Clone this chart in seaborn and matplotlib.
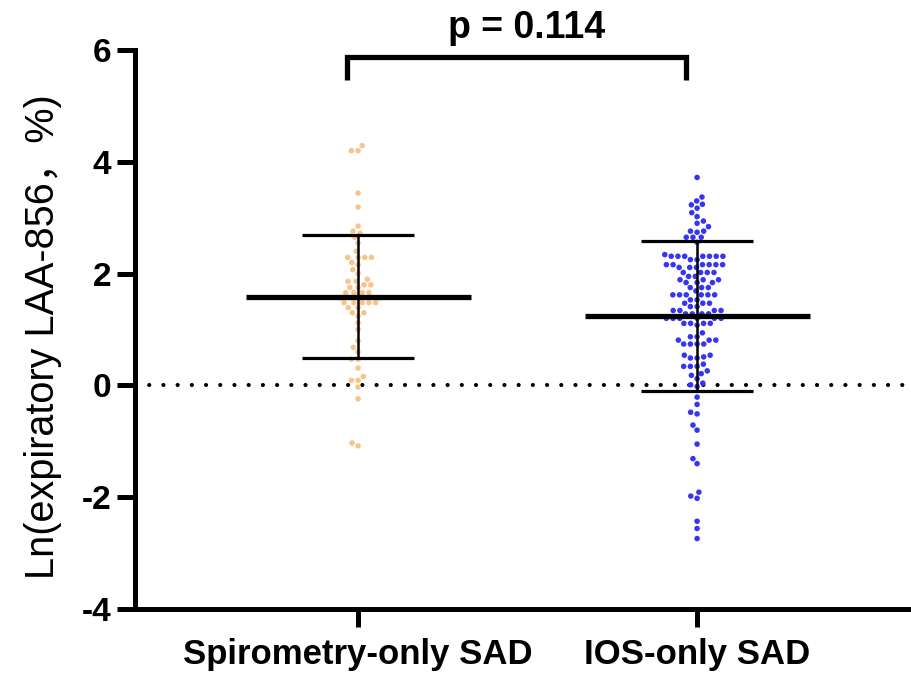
import matplotlib
matplotlib.use("Agg")
import matplotlib.pyplot as plt
import seaborn as sns
import pandas as pd
import numpy as np

# Group labels and colours
groups = ["Spirometry-only SAD", "IOS-only SAD"]
colors = ["#F8C48A", "#3535F2"]

# Ln(expiratory LAA-856, %) per subject
spiro_vals = [4.29, 4.20, 4.20, 3.44, 3.19, 2.85, 2.76, 2.72, 2.65,
              2.55, 2.40, 2.20, 2.00, 1.90, 1.30, 1.00, 0.80, 0.60,
              2.29, 2.29, 2.29, 2.29, 2.16, 2.07, 1.86, 1.86, 1.80, 1.80,
              1.75, 1.75, 1.66, 1.66, 1.66, 1.66, 1.57, 1.57, 1.57, 1.57,
              1.48, 1.48, 1.48, 1.48, 1.48, 1.39, 1.39, 1.30, 1.24, 1.12,
              0.68, 0.47, 0.47, 0.31, 0.16, 0.09, 0.09, -0.03, -0.24,
              -1.03, -1.08]

ios_vals = [3.72, 3.37, 3.30, 3.24, 3.23, 3.17, 3.09, 3.02, 2.94, 2.90,
            2.84, 2.74, 2.76, 2.76, 2.65, 2.65, 2.65, 2.56, 2.34,
            2.31, 2.31, 2.31, 2.31, 2.31, 2.31, 2.31, 2.25, 2.25,
            2.16, 2.16, 2.16, 2.16, 2.16, 2.16, 2.11, 2.11, 2.11,
            2.02, 2.02, 2.02, 2.02, 1.95, 1.95, 1.89, 1.89, 1.89,
            1.84, 1.84, 1.84, 1.75, 1.75, 1.75, 1.69,
            1.62, 1.62, 1.62, 1.62, 1.62, 1.62, 1.53, 1.53,
            1.47, 1.47, 1.47, 1.41, 1.41, 1.34, 1.34, 1.34, 1.34,
            1.28, 1.28, 1.28, 1.28, 1.20, 1.20, 1.20, 1.20, 1.20, 1.20,
            1.11, 1.11, 1.11, 1.11, 1.08, 0.94, 0.87, 0.87,
            0.81, 0.81, 0.81, 0.74, 0.74, 0.74, 0.74,
            0.54, 0.54, 0.51, 0.49, 0.49, 0.38, 0.34, 0.34, 0.34,
            0.26, 0.21, 0.18, 0.12, 0.04, 0.01, -0.02, -0.21, -0.34,
            -0.48, -0.51, -0.71, -0.80, -1.05, -1.31, -1.40,
            -1.91, -1.98, -2.02, -2.43, -2.56, -2.74]

# Group summaries: mean and standard deviation
group_means = [1.59, 1.24]
group_sds = [1.10, 1.34]

# Significance annotation
p_label = "p = 0.114"

y_ticks = [-4, -2, 0, 2, 4, 6]
y_label = "Ln(expiratory LAA-856，%)"

df = pd.DataFrame({
    "group": [groups[0]] * len(spiro_vals) + [groups[1]] * len(ios_vals),
    "value": spiro_vals + ios_vals,
})

sns.set_style("ticks")
plt.rcParams["font.family"] = ["Liberation Sans", "Noto Sans CJK SC", "DejaVu Sans"]
plt.rcParams.update({
    "text.color": "black",
    "axes.labelcolor": "black",
    "axes.edgecolor": "black",
    "xtick.color": "black",
    "ytick.color": "black",
    "xtick.labelcolor": "black",
    "ytick.labelcolor": "black",
})

fig = plt.figure(figsize=(9.11, 6.73), dpi=100)
ax = fig.add_axes([0.1482, 0.0951, 0.8518, 0.8306])

sns.swarmplot(data=df, x="group", y="value", hue="group", order=groups,
              hue_order=groups, palette=colors, size=4.0, linewidth=0.6,
              legend=False, ax=ax, zorder=2)
# the (invisible) edge keeps the swarm columns slightly apart
for coll in ax.collections:
    coll.set_edgecolor("none")

# mean and SD bars
for i, (m, s) in enumerate(zip(group_means, group_sds)):
    ax.plot([i - 0.332, i + 0.332], [m, m], color="black", lw=3.8,
            solid_capstyle="butt", zorder=4)
    ax.plot([i, i], [m - s, m + s], color="black", lw=1.8, zorder=3)
    for y in (m - s, m + s):
        ax.plot([i - 0.165, i + 0.165], [y, y], color="black", lw=2.3,
                solid_capstyle="butt", zorder=3)

# dotted reference line at zero
ax.axhline(0, color="black", lw=3.0, linestyle=(0, (0.01, 3.4)),
           dash_capstyle="round", zorder=1)

# comparison bracket
bx0, bx1 = -0.032, 0.968
ax.plot([bx0, bx0, bx1, bx1], [5.46, 5.87, 5.87, 5.46], color="black",
        lw=3.8, solid_joinstyle="miter", solid_capstyle="butt",
        clip_on=False, zorder=5)
ax.text(0.496, 6.215, p_label, ha="center", va="baseline", fontsize=27,
        fontweight="bold", color="black", clip_on=False)

ax.set_xlim(-0.658, 1.631)
ax.set_ylim(-4, 6)
ax.set_yticks(y_ticks)
ax.set_yticklabels([str(t) for t in y_ticks])
ax.set_xlabel("")
ax.set_ylabel(y_label, fontsize=28.5, color="black",
              family=["Liberation Sans", "Noto Sans CJK SC"])
ax.yaxis.set_label_coords(-0.094, 0.488)

for side in ("top", "right"):
    ax.spines[side].set_visible(False)
for side in ("left", "bottom"):
    ax.spines[side].set_linewidth(3.6)
    ax.spines[side].set_color("black")
    ax.spines[side].set_capstyle("projecting")

ax.tick_params(axis="both", length=13, width=3.6, color="black",
               labelcolor="black")
ax.tick_params(axis="y", labelsize=24, pad=4)
ax.tick_params(axis="x", labelsize=25, pad=8)
for lab in ax.get_xticklabels() + ax.get_yticklabels():
    lab.set_fontweight("bold")

fig.savefig("out.png", dpi=100)
